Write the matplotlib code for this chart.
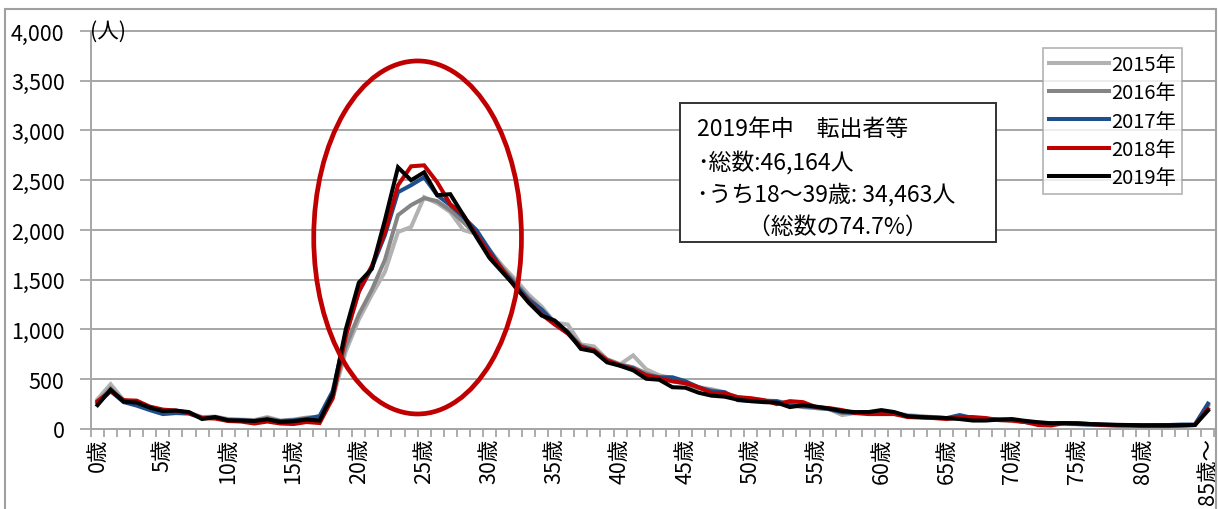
import matplotlib
matplotlib.use("Agg")
import matplotlib.pyplot as plt
from matplotlib.patches import Ellipse, Rectangle
import numpy as np

plt.rcParams['font.family'] = ['Noto Sans CJK JP', 'DejaVu Sans']

ages = list(range(86))
tick_labels = [f"{a}歳" for a in range(0, 85, 5)] + ["85歳～"]
years = ["2015年", "2016年", "2017年", "2018年", "2019年"]
colors = ["#b2b2b2", "#858585", "#1f4e8c", "#c00000", "#000000"]

v2015 = [300, 450, 290, 260, 220, 185, 185, 165, 120, 125, 100, 95, 90, 120, 85, 95, 115, 125,
         300, 780, 1100, 1350, 1580, 1980, 2030, 2330, 2270, 2180, 2000, 1960, 1800, 1640, 1500,
         1350, 1230, 1070, 1050, 850, 830, 700, 650, 740, 600, 540, 510, 470, 420, 400, 370, 310,
         300, 290, 280, 260, 240, 210, 200, 140, 160, 170, 170, 160, 140, 130, 120, 110, 100, 100,
         100, 90, 80, 70, 60, 50, 50, 48, 45, 40, 38, 36, 35, 35, 35, 35, 40, 230]
v2016 = [270, 410, 280, 250, 210, 170, 175, 160, 115, 120, 95, 90, 85, 110, 80, 90, 110, 120,
         330, 830, 1150, 1400, 1700, 2150, 2250, 2320, 2290, 2200, 2080, 1950, 1780, 1620, 1470,
         1320, 1200, 1070, 980, 840, 800, 700, 650, 620, 560, 520, 480, 460, 410, 390, 360, 320,
         300, 280, 270, 240, 220, 210, 200, 160, 170, 165, 160, 150, 130, 125, 115, 110, 110, 100,
         95, 90, 90, 75, 65, 55, 55, 50, 45, 40, 38, 36, 35, 35, 35, 38, 40, 240]
v2017 = [260, 380, 270, 235, 190, 150, 160, 155, 110, 115, 85, 85, 80, 90, 80, 85, 100, 130,
         380, 960, 1380, 1620, 1950, 2380, 2450, 2530, 2350, 2250, 2130, 2000, 1800, 1600, 1450,
         1300, 1200, 1060, 960, 830, 790, 680, 640, 610, 540, 520, 520, 480, 420, 380, 370, 290,
         280, 280, 280, 240, 230, 220, 200, 170, 160, 170, 170, 160, 130, 120, 115, 110, 140, 110,
         100, 95, 90, 70, 60, 55, 55, 50, 45, 45, 40, 38, 35, 38, 40, 45, 45, 255]
v2018 = [280, 380, 290, 285, 225, 195, 185, 160, 110, 105, 80, 75, 55, 75, 55, 50, 70, 60,
         310, 930, 1380, 1640, 1980, 2450, 2640, 2650, 2480, 2260, 2150, 1950, 1760, 1600, 1420,
         1280, 1150, 1050, 960, 820, 790, 690, 640, 600, 540, 510, 480, 460, 420, 360, 360, 320,
         310, 290, 250, 280, 270, 220, 210, 190, 160, 150, 150, 150, 120, 115, 110, 100, 120, 120,
         110, 90, 85, 70, 40, 35, 60, 60, 50, 40, 35, 35, 30, 30, 30, 35, 40, 200]
v2019 = [240, 395, 275, 265, 215, 180, 185, 170, 100, 120, 88, 85, 80, 98, 70, 78, 95, 85,
         350, 1000, 1470, 1610, 2100, 2630, 2500, 2580, 2350, 2360, 2150, 1930, 1720, 1575, 1430,
         1270, 1140, 1090, 970, 805, 780, 670, 635, 590, 505, 495, 420, 415, 365, 335, 325, 295,
         280, 270, 265, 220, 240, 225, 205, 180, 170, 170, 190, 170, 128, 120, 115, 110, 100, 85,
         85, 95, 100, 82, 68, 58, 60, 55, 50, 45, 42, 40, 38, 38, 38, 38, 40, 185]
series = [v2015, v2016, v2017, v2018, v2019]

yticks = [0, 500, 1000, 1500, 2000, 2500, 3000, 3500, 4000]
note_lines = ["2019年中　転出者等", "･総数:46,164人", "･うち18～39歳: 34,463人", "　　 （総数の74.7%）"]

W, H = 1218, 510
fig = plt.figure(figsize=(W/100, H/100), dpi=100)
ax = fig.add_axes([91/W, 80/H, 0.9224, 0.7804])

grid_c = "#a6a6a6"
for yt in yticks:
    ax.axhline(yt, color=grid_c, lw=1.4, zorder=0, clip_on=False)

for name, vals, c in zip(years, series, colors):
    ax.plot(ages, vals, color=c, lw=2.9, label=name, solid_joinstyle='miter', zorder=3)

ax.set_xlim(-0.5, 85.5)
ax.set_ylim(0, 4000)
ax.set_yticks(yticks)
ax.set_yticklabels([f"{v:,}" for v in yticks], fontsize=15.5)
ax.set_xticks(list(range(0, 86, 5)))
ax.set_xticklabels(tick_labels, rotation=90, fontsize=15.5, va='top', ha='center')
ax.set_xticks(np.arange(-0.5, 86, 1.0), minor=True)
ax.tick_params(axis='x', which='major', length=0, pad=6)
ax.tick_params(axis='x', which='minor', length=6, color=grid_c, width=1.3, direction='out')
ax.tick_params(axis='y', length=8, color=grid_c, width=1.3, pad=11)
for s in ['top', 'right']:
    ax.spines[s].set_visible(False)
for s in ['left', 'bottom']:
    ax.spines[s].set_color(grid_c)
    ax.spines[s].set_linewidth(1.4)

ax.text(-0.55, 4000, "(人)", fontsize=15.5, ha='left', va='center', zorder=5)

ell = Ellipse((24.5, 1925), 15.9, 3548, fill=False, edgecolor="#c00000", lw=3.4, zorder=4)
ax.add_patch(ell)

leg = ax.legend(loc='upper left', bbox_to_anchor=((1043-91)/1123.5, (430-49)/398.0),
                fontsize=14.5, frameon=True, fancybox=False, handlelength=3.0,
                handletextpad=0.1, labelspacing=0.36, borderpad=0.3, borderaxespad=0)
leg.get_frame().set_edgecolor("#a0a0a0")
leg.get_frame().set_linewidth(1.2)

# annotation box
fig.add_artist(Rectangle((680/W, 1-243/H), 316/W, 139/H, transform=fig.transFigure,
                         facecolor='white', edgecolor='#333333', lw=1.4, zorder=6))
for i, line in enumerate(note_lines):
    fig.text(697/W, 1-(130 + 32.5*i)/H, line, fontsize=16.5, ha='left', va='center', zorder=7)

fig.add_artist(Rectangle((5/W, -0.05), 1211/W, 1.05 - 10/H, transform=fig.transFigure,
                         fill=False, edgecolor="#a0a0a0", lw=1.5))

fig.savefig("out.png", dpi=100)
